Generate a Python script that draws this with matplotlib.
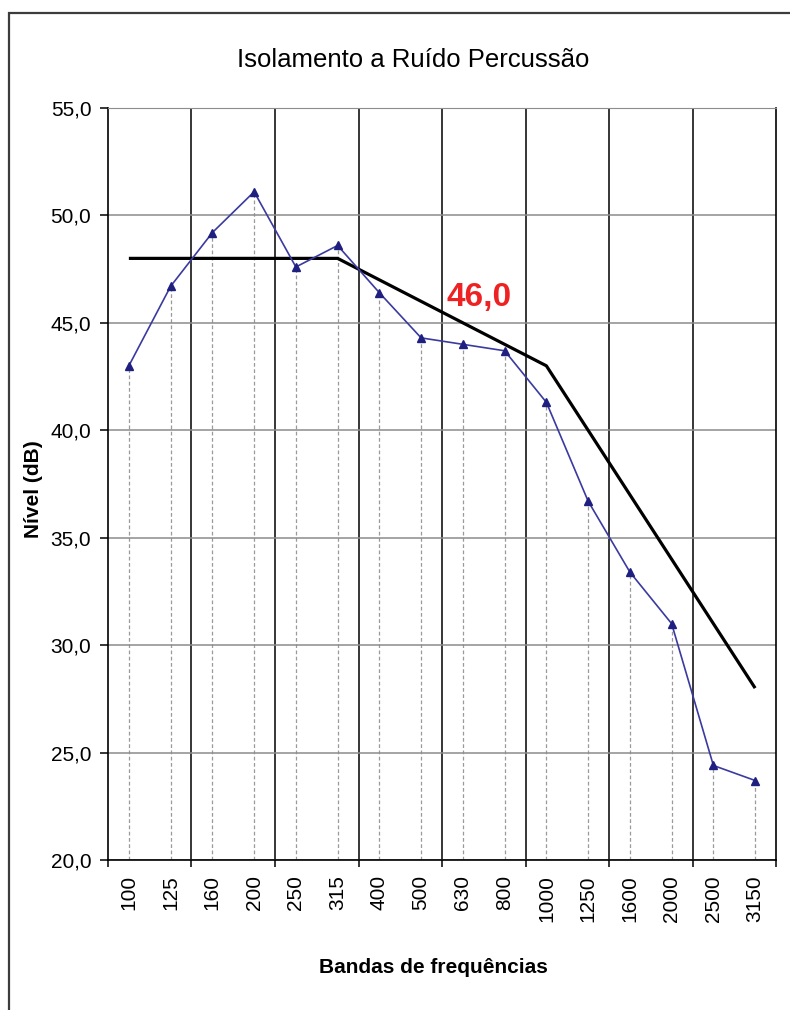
import matplotlib
import matplotlib.pyplot as plt
from matplotlib.patches import Rectangle

matplotlib.use("Agg")

plt.rcParams["font.family"] = ["Liberation Sans", "DejaVu Sans"]

bands = ["100", "125", "160", "200", "250", "315", "400", "500",
         "630", "800", "1000", "1250", "1600", "2000", "2500", "3150"]
measured = [43.0, 46.7, 49.2, 51.1, 47.6, 48.6, 46.4, 44.3,
            44.0, 43.7, 41.3, 36.7, 33.4, 31.0, 24.4, 23.7]
reference = [48.0, 48.0, 48.0, 48.0, 48.0, 48.0, 47.0, 46.0,
             45.0, 44.0, 43.0, 40.0, 37.0, 34.0, 31.0, 28.0]
rating = 46.0
rating_band = "500"


def main():
    fig = plt.figure(figsize=(7.9, 10.1), dpi=100)
    ax = fig.add_axes([0.1367, 0.1485, 0.8456, 0.7446])

    x = list(range(len(bands)))

    # dashed drop lines from each point down to the axis
    for xi, yi in zip(x, measured):
        ax.plot([xi, xi], [20, yi], color="#9a9a9a", lw=0.9,
                ls=(0, (3, 2)), zorder=1)

    ax.plot(x, reference, color="black", lw=2.3, zorder=3,
            solid_capstyle="butt")
    ax.plot(x, measured, color="#3a3aa0", lw=1.2, marker="^", ms=6,
            mfc="#1f1f80", mec="#1f1f80", zorder=4)

    i = bands.index(rating_band)
    ax.text(x[i] + 1.38, reference[i] + 0.2, f"{rating:.1f}".replace(".", ","),
            color="#ee2222", fontsize=24, fontweight="bold",
            ha="center", va="center", zorder=5)

    ax.set_xlim(-0.5, len(bands) - 0.5)
    ax.set_ylim(20, 55)

    yt = [20, 25, 30, 35, 40, 45, 50, 55]
    ax.set_yticks(yt)
    ax.set_yticklabels([f"{v:.1f}".replace(".", ",") for v in yt])
    ax.grid(axis="y", color="#8c8c8c", lw=1.1, zorder=0)

    # category labels sit between the tick marks
    ax.set_xticks(x)
    ax.set_xticklabels(bands, rotation=90)
    ax.tick_params(axis="x", which="major", length=0, pad=11, labelsize=15)
    bounds = [b - 0.5 for b in range(0, len(bands) + 1, 2)]
    ax.set_xticks(bounds, minor=True)
    ax.tick_params(axis="x", which="minor", length=5, width=1.1,
                   direction="out", color="black")
    for b in bounds[1:-1]:
        ax.axvline(b, color="black", lw=1.1, zorder=0)

    ax.tick_params(axis="y", length=6, width=1.1, pad=6, labelsize=15,
                   color="black")

    for side in ["left", "bottom", "right"]:
        ax.spines[side].set_color("black")
        ax.spines[side].set_linewidth(1.2)
    ax.spines["top"].set_color("#8c8c8c")

    fig.text(0.5234, 0.9406, "Isolamento a Ruído Percussão",
             fontsize=18.5, ha="center", va="center")
    fig.text(0.549, 0.0416, "Bandas de frequências", fontsize=15,
             fontweight="bold", ha="center", va="center")
    fig.text(0.043, 0.516, "Nível (dB)", fontsize=15, fontweight="bold",
             rotation=90, ha="center", va="center")

    frame = Rectangle((0.0114, -0.5), 1.5, 1.5 - 0.0129, fill=False,
                      ec="#3c3c3c", lw=1.6, transform=fig.transFigure,
                      clip_on=False)
    fig.patches.append(frame)

    fig.savefig("out.png", dpi=100)


main()
